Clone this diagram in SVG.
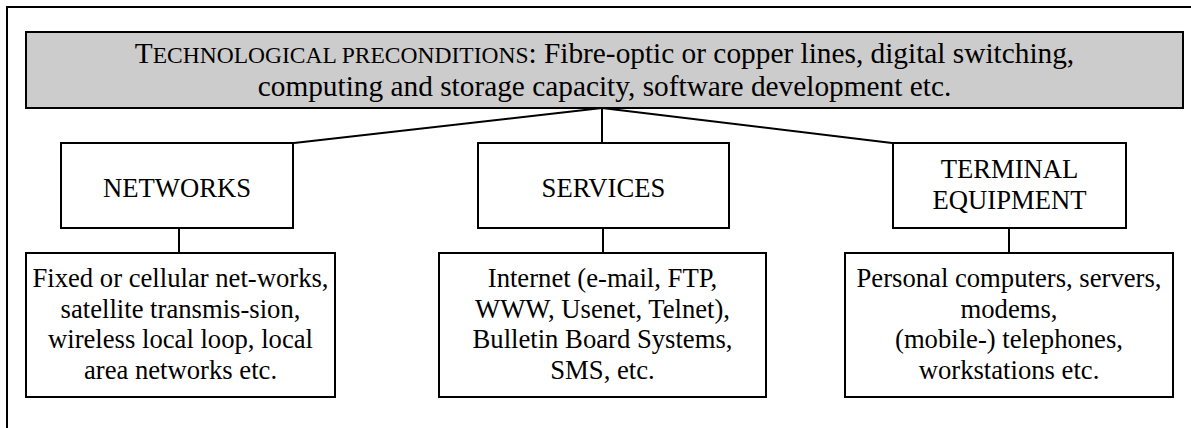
<svg xmlns="http://www.w3.org/2000/svg" width="1191" height="428" viewBox="0 0 1191 428">
<style>
  .box { fill: #ffffff; stroke: #000000; stroke-width: 2; }
  .head { fill: #cccccc; stroke: #000000; stroke-width: 2; }
  .conn { stroke: #000000; stroke-width: 2; fill: none; }
  .t { font-family: "Liberation Serif", "Times New Roman", serif; fill: #000000; text-anchor: middle; }
  .title { font-size: 29.33px; }
  .sc { font-size: 23.5px; }
  .lbl { font-size: 26.67px; }
</style>
<rect width="1191" height="428" fill="#ffffff"/>
<g id="frame">
  <rect x="7" y="7" width="1210" height="440" fill="none" stroke="#000000" stroke-width="2"/>
</g>
<g id="connectors">
  <line class="conn" x1="602" y1="108" x2="294" y2="143"/>
  <line class="conn" x1="602" y1="108" x2="602" y2="143"/>
  <line class="conn" x1="602" y1="108" x2="892" y2="143"/>
  <line class="conn" x1="179" y1="228" x2="179" y2="253"/>
  <line class="conn" x1="603" y1="228" x2="603" y2="253"/>
  <line class="conn" x1="1009" y1="228" x2="1009" y2="253"/>
</g>
<g id="preconditions">
  <rect class="head" x="26" y="32" width="1157" height="76"/>
  <text class="t title" x="604.5" y="63">T<tspan class="sc">ECHNOLOGICAL PRECONDITIONS</tspan>: Fibre-optic or copper lines, digital switching,</text>
  <text class="t title" x="604.5" y="96">computing and storage capacity, software development etc.</text>
</g>
<g id="networks">
  <rect class="box" x="61" y="143" width="232" height="85"/>
  <text class="t lbl" x="177" y="197">NETWORKS</text>
</g>
<g id="services">
  <rect class="box" x="478" y="143" width="251" height="85"/>
  <text class="t lbl" x="603.5" y="197">SERVICES</text>
</g>
<g id="terminal">
  <rect class="box" x="893" y="143" width="233" height="85"/>
  <text class="t lbl" x="1009.5" y="178">TERMINAL</text>
  <text class="t lbl" x="1009.5" y="209">EQUIPMENT</text>
</g>
<g id="networks-detail">
  <rect class="box" x="26" y="253" width="309" height="144"/>
  <text class="t lbl" x="180.5" y="287">Fixed or cellular net-works,</text>
  <text class="t lbl" x="180.5" y="317.5">satellite transmis-sion,</text>
  <text class="t lbl" x="180.5" y="348">wireless local loop, local</text>
  <text class="t lbl" x="180.5" y="378.5">area networks etc.</text>
</g>
<g id="services-detail">
  <rect class="box" x="439" y="253" width="327" height="144"/>
  <text class="t lbl" x="602.5" y="287">Internet (e-mail, FTP,</text>
  <text class="t lbl" x="602.5" y="317.5">WWW, Usenet, Telnet),</text>
  <text class="t lbl" x="602.5" y="348">Bulletin Board Systems,</text>
  <text class="t lbl" x="602.5" y="378.5">SMS, etc.</text>
</g>
<g id="terminal-detail">
  <rect class="box" x="845" y="253" width="328" height="144"/>
  <text class="t lbl" x="1009" y="287">Personal computers, servers,</text>
  <text class="t lbl" x="1009" y="317.5">modems,</text>
  <text class="t lbl" x="1009" y="348">(mobile-) telephones,</text>
  <text class="t lbl" x="1009" y="378.5">workstations etc.</text>
</g>
</svg>
